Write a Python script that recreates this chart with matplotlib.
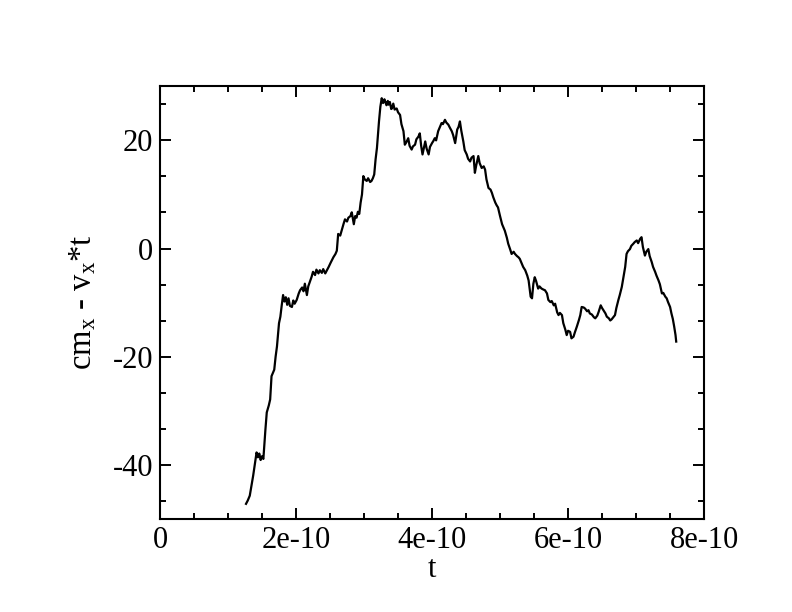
import matplotlib
matplotlib.use("Agg")
import matplotlib.pyplot as plt
from matplotlib.ticker import MultipleLocator, AutoMinorLocator
import numpy as np

plt.rcParams['font.family'] = 'Liberation Serif'
plt.rcParams['mathtext.fontset'] = 'custom'
plt.rcParams['mathtext.rm'] = 'Liberation Serif'
plt.rcParams['mathtext.it'] = 'Liberation Serif:italic'
plt.rcParams['axes.unicode_minus'] = False

# t in units of 1e-10
t_scaled = [
    1.265, 1.29, 1.32, 1.35, 1.37, 1.40, 1.42, 1.44, 1.46, 1.48, 1.50, 1.52,
    1.55, 1.57, 1.60, 1.62, 1.64, 1.66, 1.68, 1.70, 1.72, 1.75, 1.77, 1.79,
    1.81, 1.83, 1.85, 1.87, 1.89, 1.91, 1.94, 1.96, 1.98, 2.01, 2.04, 2.06,
    2.09, 2.11, 2.13, 2.16, 2.18, 2.21, 2.23, 2.25, 2.28, 2.30, 2.33, 2.35,
    2.38, 2.40, 2.43, 2.46, 2.48, 2.51, 2.55, 2.58, 2.60, 2.62, 2.65, 2.67,
    2.70, 2.72, 2.75, 2.77, 2.80, 2.82, 2.85, 2.87, 2.89, 2.91, 2.93, 2.95,
    2.97, 2.99, 3.01, 3.04, 3.06, 3.09, 3.11, 3.13, 3.15, 3.17, 3.19, 3.22,
    3.24, 3.26, 3.28, 3.30, 3.31, 3.33, 3.35, 3.36, 3.38, 3.40, 3.41, 3.43,
    3.45, 3.48, 3.50, 3.53, 3.55, 3.58, 3.60, 3.62, 3.65, 3.67, 3.70, 3.72,
    3.75, 3.77, 3.80, 3.82, 3.84, 3.86, 3.88, 3.90, 3.92, 3.95, 3.97, 4.00,
    4.02, 4.04, 4.06, 4.09, 4.11, 4.14, 4.16, 4.19, 4.21, 4.24, 4.26, 4.29,
    4.31, 4.34, 4.37, 4.39, 4.41, 4.43, 4.46, 4.48, 4.51, 4.53, 4.56, 4.58,
    4.61, 4.63, 4.65, 4.68, 4.70, 4.73, 4.76, 4.78, 4.80, 4.83, 4.86, 4.88,
    4.90, 4.93, 4.95, 4.97, 5.00, 5.03, 5.05, 5.07, 5.10, 5.12, 5.15, 5.17,
    5.20, 5.22, 5.25, 5.27, 5.29, 5.32, 5.34, 5.37, 5.40, 5.42, 5.45, 5.47,
    5.49, 5.51, 5.53, 5.56, 5.58, 5.61, 5.64, 5.66, 5.69, 5.71, 5.74, 5.76,
    5.79, 5.81, 5.84, 5.86, 5.88, 5.91, 5.93, 5.96, 5.98, 6.00, 6.03, 6.05,
    6.08, 6.10, 6.13, 6.16, 6.18, 6.20, 6.23, 6.25, 6.28, 6.30, 6.32, 6.35,
    6.38, 6.40, 6.43, 6.45, 6.48, 6.50, 6.52, 6.55, 6.57, 6.60, 6.62, 6.64,
    6.67, 6.69, 6.71, 6.74, 6.76, 6.79, 6.81, 6.84, 6.86, 6.88, 6.91, 6.93,
    6.96, 6.98, 7.01, 7.03, 7.06, 7.08, 7.10, 7.13, 7.15, 7.18, 7.20, 7.23,
    7.25, 7.28, 7.30, 7.33, 7.35, 7.38, 7.40, 7.43, 7.45, 7.47, 7.50, 7.52,
    7.54, 7.56, 7.58, 7.59,
]

cm_minus_vt = [
    -47.2, -46.6, -45.7, -43.5, -42.0, -39.5, -37.7, -38.6, -37.9, -39.1, -38.4, -38.9,
    -33.5, -30.3, -29.0, -27.9, -23.6, -23.0, -22.4, -20.0, -18.1, -13.8, -12.6, -10.5,
    -8.6, -9.8, -9.0, -10.4, -9.2, -10.6, -10.8, -9.6, -10.2, -9.5, -8.3, -7.7,
    -7.2, -7.9, -6.5, -8.6, -7.0, -5.9, -5.2, -4.3, -4.9, -3.9, -4.6, -4.0,
    -4.5, -3.8, -4.6, -3.9, -3.4, -2.6, -1.6, -1.0, -0.4, 2.7, 2.4, 3.3,
    4.6, 5.4, 5.0, 5.7, 6.0, 6.7, 4.5, 6.0, 5.7, 6.8, 6.4, 8.5,
    10.0, 13.4, 12.8, 12.5, 13.0, 12.3, 12.5, 13.0, 13.7, 16.5, 18.6, 23.5,
    26.2, 27.8, 26.9, 27.6, 27.2, 26.5, 27.3, 26.6, 27.1, 25.8, 25.9, 26.8,
    25.7, 25.9, 25.2, 24.7, 23.0, 21.7, 19.2, 19.6, 20.4, 19.0, 18.3, 18.9,
    19.2, 20.2, 20.7, 21.3, 19.0, 17.4, 18.6, 19.8, 18.5, 17.4, 18.8, 19.5,
    19.9, 20.4, 20.0, 21.7, 22.3, 23.2, 23.0, 23.8, 23.3, 22.9, 22.4, 21.7,
    21.0, 19.5, 22.0, 22.5, 23.5, 21.8, 19.8, 18.2, 17.4, 16.6, 16.1, 16.8,
    17.1, 14.0, 15.4, 17.1, 15.8, 14.9, 15.2, 14.6, 12.8, 11.2, 10.9, 10.3,
    9.5, 8.5, 8.0, 7.6, 6.0, 4.5, 3.9, 3.3, 2.0, 0.9, -0.2, -1.0,
    -0.6, -1.0, -1.4, -1.6, -1.9, -2.8, -3.4, -4.0, -5.0, -5.9, -8.9, -9.2,
    -6.5, -5.3, -6.0, -7.4, -7.0, -7.4, -7.6, -7.7, -8.3, -9.5, -9.9, -9.7,
    -10.5, -10.2, -11.8, -12.3, -11.9, -12.3, -13.8, -15.0, -16.0, -15.2, -15.4, -16.6,
    -16.3, -15.5, -14.4, -13.2, -12.3, -10.8, -10.9, -11.1, -11.6, -11.4, -12.0, -12.2,
    -12.7, -12.9, -12.4, -11.7, -10.5, -11.0, -11.4, -12.0, -12.6, -12.9, -13.3, -13.1,
    -12.6, -12.3, -11.0, -9.5, -8.6, -7.1, -5.6, -3.4, -1.0, -0.5, -0.1, 0.5,
    0.9, 1.2, 1.5, 1.0, 1.8, 2.1, 0.3, -1.3, -0.6, -0.1, -1.4, -2.5,
    -3.4, -4.3, -5.0, -5.9, -6.6, -8.3, -8.2, -8.9, -9.2, -9.9, -10.8, -12.0,
    -13.0, -14.4, -16.0, -17.2,
]

x_ticklabels = ["0", "2e-10", "4e-10", "6e-10", "8e-10"]

t = np.array(t_scaled) * 1e-10

fig = plt.figure(figsize=(7.92, 6.12), dpi=100)
ax = fig.add_axes([0.202, 0.152, 0.687, 0.707])

ax.plot(t, cm_minus_vt, color="black", linewidth=1.6)

ax.set_xlim(0, 8e-10)
ax.set_ylim(-50, 30)
ax.set_xticks([0, 2e-10, 4e-10, 6e-10, 8e-10])
ax.set_xticklabels(x_ticklabels)
ax.xaxis.set_minor_locator(AutoMinorLocator(4))
ax.yaxis.set_major_locator(MultipleLocator(20))
ax.yaxis.set_minor_locator(AutoMinorLocator(3))

ax.tick_params(which="both", direction="in", top=True, right=True,
               width=1.4, labelsize=22, pad=5)
ax.tick_params(which="major", length=8)
ax.tick_params(which="minor", length=4.5)
for s in ax.spines.values():
    s.set_linewidth(1.5)

ax.set_xlabel("t", fontsize=22, labelpad=0)
ax.set_ylabel(r"cm$_{\rm x}$ - v$_{\rm x}$*t", fontsize=23.5, labelpad=10)

fig.savefig("out.png", dpi=100)
